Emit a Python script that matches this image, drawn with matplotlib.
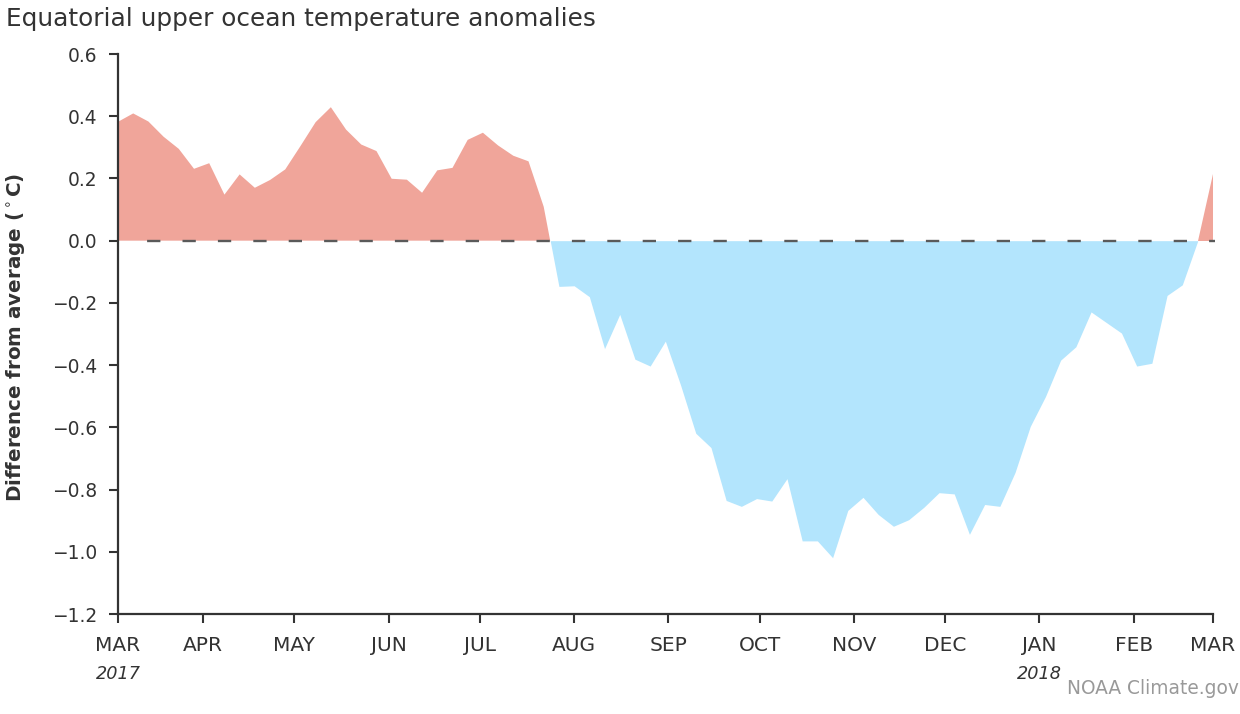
import numpy as np
import pandas as pd
import matplotlib
matplotlib.use('Agg')
import matplotlib.pyplot as plt
import matplotlib.transforms as mtrans

# pentad anomalies, Mar 2017 - Feb 2018 (deg C)
start_day = '2017-03-04'
anom = [0.382, 0.409, 0.383, 0.334, 0.295, 0.231, 0.249, 0.148, 0.213, 0.170,
        0.195, 0.229, 0.304, 0.381, 0.429, 0.357, 0.309, 0.288, 0.199, 0.196,
        0.154, 0.226, 0.234, 0.324, 0.347, 0.306, 0.273, 0.255, 0.109, -0.147,
        -0.145, -0.180, -0.347, -0.237, -0.381, -0.403, -0.323, -0.464, -0.619, -0.665,
        -0.835, -0.854, -0.829, -0.837, -0.765, -0.965, -0.965, -1.019, -0.867, -0.825,
        -0.880, -0.918, -0.897, -0.857, -0.810, -0.814, -0.944, -0.848, -0.854, -0.745,
        -0.597, -0.501, -0.384, -0.341, -0.229, -0.263, -0.297, -0.403, -0.394, -0.176,
        -0.142, -0.003, 0.213]
month_labels = ['MAR', 'APR', 'MAY', 'JUN', 'JUL', 'AUG', 'SEP', 'OCT', 'NOV',
                'DEC', 'JAN', 'FEB', 'MAR']
month_starts = ['2017-04-01', '2017-05-01', '2017-06-01', '2017-07-01', '2017-08-01',
                '2017-09-01', '2017-10-01', '2017-11-01', '2017-12-01', '2018-01-01',
                '2018-02-01']
yticks = [0.6, 0.4, 0.2, 0.0, -0.2, -0.4, -0.6, -0.8, -1.0, -1.2]

plt.rcParams['font.family'] = ['DejaVu Sans']
txt = '#333333'
W, H = 1240, 714

dates = pd.date_range(start_day, periods=len(anom), freq='5D')
vals = np.array(anom)

fig = plt.figure(figsize=(W/100, H/100), dpi=100)
rend = fig.canvas.get_renderer()

def size_for(s, target_px, **kw):
    # font size that makes string s target_px wide
    t = fig.text(0, 0, s, fontsize=10, **kw)
    w = t.get_window_extent(renderer=rend).width
    t.remove()
    return 10 * target_px / w

def fx(px):
    return px / W

def fy(px):
    return 1 - px / H

ax = fig.add_axes([fx(118), fy(614), fx(1212.7 - 118), (614 - 54) / H])

ax.fill_between(dates, 0, vals, where=vals >= 0, interpolate=True,
                color='#f0a59a', linewidth=0)
ax.fill_between(dates, 0, vals, where=vals <= 0, interpolate=True,
                color='#b3e5fd', linewidth=0)
lw = 1.7
lpx = lw * 100 / 72
ax.axhline(0, xmin=0.006, xmax=1.002, color='#5a5a5a', lw=lw, clip_on=False, zorder=3,
           linestyle=(13.3 / lpx, (13.3 / lpx, 22.1 / lpx)))

ax.set_xlim(dates[0], dates[-1])
ax.set_ylim(-1.2, 0.6)

xsize = size_for('MAR', 45)
ysize = size_for('\u22121.2', 45)

tick_dates = [dates[0]] + list(pd.to_datetime(month_starts)) + [dates[-1]]
ax.set_xticks(tick_dates)
ax.set_xticklabels(month_labels)
ax.set_yticks(yticks)

for s in ['top', 'right']:
    ax.spines[s].set_visible(False)
for s in ['left', 'bottom']:
    ax.spines[s].set_color(txt)
    ax.spines[s].set_linewidth(1.6)
ax.tick_params(axis='both', colors=txt, width=1.5, length=6.5)
ax.tick_params(axis='x', labelsize=xsize, pad=9.5)
ax.tick_params(axis='y', labelsize=ysize, pad=8.5)

# year labels under first MAR and JAN
trans = mtrans.blended_transform_factory(ax.transData, fig.transFigure)
ax.text(dates[0], fy(679), '2017', transform=trans, ha='center', va='baseline',
        fontsize=size_for('2017', 45, style='italic'), style='italic', color=txt)
ax.text(pd.Timestamp('2018-01-01'), fy(679), '2018', transform=trans,
        ha='center', va='baseline', fontsize=size_for('2018', 45, style='italic'),
        style='italic', color=txt)

ylab = 'Difference from average ($^\\circ$C)'
fig.text(fx(4), fy(337.5), ylab, rotation=90, ha='left', va='center', color=txt,
         fontweight='bold', fontsize=size_for(ylab, 329, fontweight='bold'))

title = 'Equatorial upper ocean temperature anomalies'
fig.text(fx(6), fy(26), title, fontsize=size_for(title, 590), color=txt,
         ha='left', va='baseline')
credit = 'NOAA Climate.gov'
fig.text(fx(1239), fy(694), credit, fontsize=size_for(credit, 172), color='#999999',
         ha='right', va='baseline')

fig.savefig('out.png', dpi=100)
